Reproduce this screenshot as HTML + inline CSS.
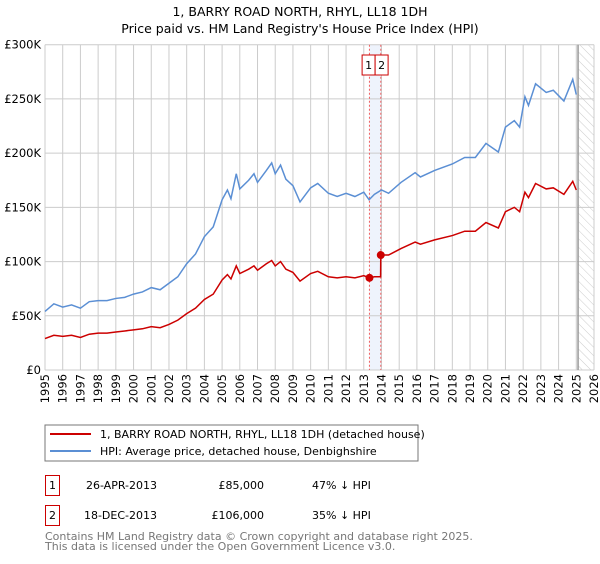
<!DOCTYPE html>
<html><head><meta charset="utf-8"><style>
body{margin:0;background:#fff;font-family:"DejaVu Sans","Liberation Sans",sans-serif;}
svg text{font-family:"DejaVu Sans","Liberation Sans",sans-serif;}
</style></head><body>
<svg id="chart" width="600" height="560" xmlns="http://www.w3.org/2000/svg">
<defs><pattern id="hatch" width="6" height="6" patternUnits="userSpaceOnUse" patternTransform="rotate(-45)"><line x1="0" y1="0" x2="0" y2="6" stroke="#ccc" stroke-width="1"/></pattern></defs>
<text x="300" y="16" text-anchor="middle" font-size="12.5">1, BARRY ROAD NORTH, RHYL, LL18 1DH</text>
<text x="300" y="33" text-anchor="middle" font-size="12.5">Price paid vs. HM Land Registry's House Price Index (HPI)</text>
<g id="grid"></g><g id="axes"></g><g id="series"></g>
<rect x="45" y="425" width="373" height="36" fill="#fff" stroke="#777"/>
<line x1="50" y1="434" x2="91" y2="434" stroke="#cc0000" stroke-width="2"/>
<text x="100" y="438" font-size="11">1, BARRY ROAD NORTH, RHYL, LL18 1DH (detached house)</text>
<line x1="50" y1="451" x2="91" y2="451" stroke="#5b8fd4" stroke-width="2"/>
<text x="100" y="455" font-size="11">HPI: Average price, detached house, Denbighshire</text>
<g>
<rect x="45.5" y="475.5" width="14" height="20" fill="none" stroke="#cc0000"/><text x="52.5" y="489" font-size="11" text-anchor="middle">1</text>
<text x="157" y="489" font-size="11" text-anchor="end">26-APR-2013</text>
<text x="264" y="489" font-size="11" text-anchor="end">£85,000</text>
<text x="312" y="489" font-size="11">47% ↓ HPI</text></g>
<g>
<rect x="45.5" y="505.5" width="14" height="20" fill="none" stroke="#cc0000"/><text x="52.5" y="519" font-size="11" text-anchor="middle">2</text>
<text x="157" y="519" font-size="11" text-anchor="end">18-DEC-2013</text>
<text x="264" y="519" font-size="11" text-anchor="end">£106,000</text>
<text x="312" y="519" font-size="11">35% ↓ HPI</text></g>
<text x="45" y="540" font-size="11" fill="#777">Contains HM Land Registry data © Crown copyright and database right 2025.</text>
<text x="45" y="550" font-size="11" fill="#777">This data is licensed under the Open Government Licence v3.0.</text>
</svg>
<script>
const hpiYears=[1995.0,1995.5,1996.0,1996.5,1997.0,1997.5,1998.0,1998.5,1999.0,1999.5,2000.0,2000.5,2001.0,2001.5,2002.0,2002.5,2003.0,2003.5,2004.0,2004.5,2005.0,2005.3,2005.5,2005.8,2006.0,2006.5,2006.8,2007.0,2007.5,2007.8,2008.0,2008.3,2008.6,2009.0,2009.4,2010.0,2010.4,2011.0,2011.5,2012.0,2012.5,2013.0,2013.3,2013.6,2014.0,2014.4,2015.1,2015.9,2016.2,2017.0,2018.0,2018.7,2019.3,2019.9,2020.6,2021.0,2021.5,2021.8,2022.1,2022.3,2022.7,2023.3,2023.7,2024.3,2024.8,2025.0];
const hpiValues=[54,61,58,60,57,63,64,64,66,67,70,72,76,74,80,86,98,107,123,132,157,166,158,181,167,175,181,173,184,191,181,189,176,170,155,168,172,163,160,163,160,164,157,162,166,163,173,182,178,184,190,196,196,209,201,224,230,224,252,244,264,256,258,248,268,254];
const priceYears=[1995.0,1995.5,1996.0,1996.5,1997.0,1997.5,1998.0,1998.5,1999.0,1999.5,2000.0,2000.5,2001.0,2001.5,2002.0,2002.5,2003.0,2003.5,2004.0,2004.5,2005.0,2005.3,2005.5,2005.8,2006.0,2006.5,2006.8,2007.0,2007.5,2007.8,2008.0,2008.3,2008.6,2009.0,2009.4,2010.0,2010.4,2011.0,2011.5,2012.0,2012.5,2013.0,2013.32,2013.6,2013.95,2013.96,2014.4,2015.1,2015.9,2016.2,2017.0,2018.0,2018.7,2019.3,2019.9,2020.6,2021.0,2021.5,2021.8,2022.1,2022.3,2022.7,2023.3,2023.7,2024.3,2024.8,2025.0];
const priceValues=[29,32,31,32,30,33,34,34,35,36,37,38,40,39,42,46,52,57,65,70,83,88,84,96,89,93,96,92,98,101,96,100,93,90,82,89,91,86,85,86,85,87,85,86,86,106,106,112,118,116,120,124,128,128,136,131,146,150,146,164,159,172,167,168,162,174,166];
const saleYears=[2013.32,2013.96];
const saleValues=[85,106];
const saleLabels=["1","2"];
const yTicks=[0,50,100,150,200,250,300];
const yTickLabels=["£0","£50K","£100K","£150K","£200K","£250K","£300K"];
const xTicks=[1995,1996,1997,1998,1999,2000,2001,2002,2003,2004,2005,2006,2007,2008,2009,2010,2011,2012,2013,2014,2015,2016,2017,2018,2019,2020,2021,2022,2023,2024,2025,2026];
const forecastStart=2025.1;
const X0=45,X1=594,Y0=370,Y1=44.7;
const x=y=>X0+(y-1995)/(2026-1995)*(X1-X0);
const yv=v=>Y0-v/300*(Y0-Y1);
const NS="http://www.w3.org/2000/svg";
function mk(p,t,a){const e=document.createElementNS(NS,t);for(const k in a)e.setAttribute(k,a[k]);p.appendChild(e);return e;}
const grid=document.getElementById('grid'),axes=document.getElementById('axes'),ser=document.getElementById('series');
const sh=mk(grid,'rect',{x:x(saleYears[0]),y:Y1,width:x(saleYears[1])-x(saleYears[0]),height:Y0-Y1,fill:'#eef3fc'});


xTicks.forEach(t=>{const l=mk(grid,'line',{x1:x(t),x2:x(t),y1:Y1,y2:Y0,stroke:'#ccc'});


const tx=mk(axes,'text',{x:0,y:0,'font-size':'11.5','text-anchor':'end',transform:`translate(${x(t)+4},${Y0+4}) rotate(-90)`});tx.textContent=t;

});
yTicks.forEach((t,i)=>{const l=mk(grid,'line',{x1:X0,x2:X1,y1:yv(t),y2:yv(t),stroke:'#ccc'});


const tx=mk(axes,'text',{x:X0-4,y:yv(t)+4,'font-size':'11.5','text-anchor':'end'});tx.textContent=yTickLabels[i];

});
const fc=mk(grid,'rect',{x:x(forecastStart),y:Y1,width:X1-x(forecastStart),height:Y0-Y1,fill:'url(#hatch)'});


const fl=mk(grid,'line',{x1:x(forecastStart),x2:x(forecastStart),y1:Y1,y2:Y0,stroke:'#999','stroke-width':1.5});


saleYears.forEach((s,i)=>{const l=mk(grid,'line',{x1:x(s),x2:x(s),y1:Y1,y2:Y0,stroke:'#f06060','stroke-dasharray':'2,2'});

});
const hp=mk(ser,'polyline',{points:hpiYears.map((t,i)=>x(t)+','+yv(hpiValues[i])).join(' '),fill:'none',stroke:'#5b8fd4','stroke-width':1.5});


const pp=mk(ser,'polyline',{points:priceYears.map((t,i)=>x(t)+','+yv(priceValues[i])).join(' '),fill:'none',stroke:'#cc0000','stroke-width':1.5});


const mid=(x(saleYears[0])+x(saleYears[1]))/2;
saleYears.forEach((s,i)=>{const c=mk(ser,'circle',{cx:x(s),cy:yv(saleValues[i]),r:4,fill:'#cc0000'});


const bx=i===0?mid-13:mid;
const r=mk(ser,'rect',{x:bx,y:55,width:13,height:20,fill:'#fff',stroke:'#cc0000'});


const t=mk(ser,'text',{x:bx+6.5,y:69,'font-size':'11','text-anchor':'middle'});t.textContent=saleLabels[i];

});
</script>
</body></html>
